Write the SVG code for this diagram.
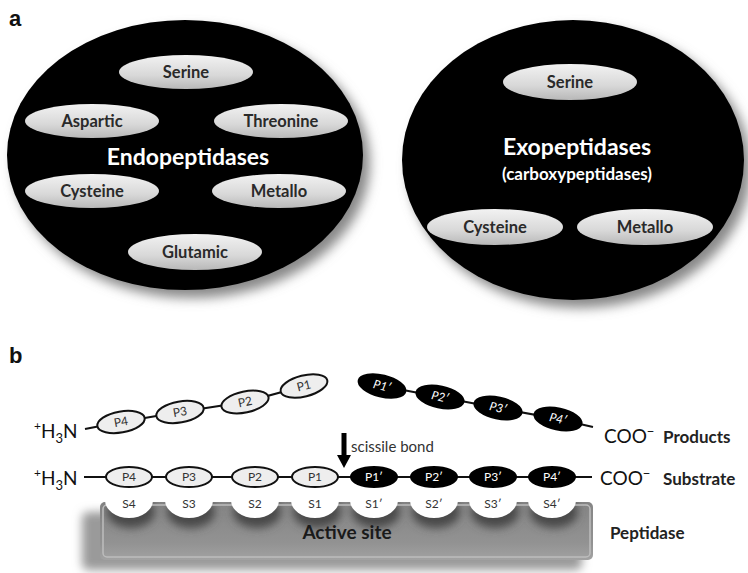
<svg xmlns="http://www.w3.org/2000/svg" width="748" height="573" viewBox="0 0 748 573">
<defs>
<style>
.lb{font-family:Lato,"Open Sans","Liberation Sans",sans-serif;font-weight:bold}
.lr{font-family:Lato,"Open Sans","Liberation Sans",sans-serif}
.pan{font-family:"Liberation Sans",Arial,sans-serif;font-weight:bold;font-size:22px;fill:#111}
.big{fill:#000}
.sub{fill:url(#gl)}
.sublbl{font-size:16.5px;fill:#2a2a2a;text-anchor:middle}
.title{font-size:23px;fill:#fff;text-anchor:middle}
.pl{fill:#eeeeee;stroke:#111;stroke-width:2}
.pd{fill:#000;stroke:#000;stroke-width:2}
.plt{font-size:12px;fill:#333;text-anchor:middle}
.pdt{font-size:12px;fill:#fff;text-anchor:middle;font-style:italic}
.pdt2{font-size:12px;fill:#fff;text-anchor:middle}
.st{font-size:12px;fill:#333;text-anchor:middle}
.bump{fill:#fff}
.chain{fill:none;stroke:#111;stroke-width:2.2}
.term{font-size:19px;fill:#111}
.side{font-size:17px;fill:#222}
</style>
<linearGradient id="gl" x1="0" y1="0" x2="0" y2="1">
<stop offset="0" stop-color="#f2f2f2"/>
<stop offset="0.6" stop-color="#d8d8d8"/>
<stop offset="1" stop-color="#b8b8b8"/>
</linearGradient>
<linearGradient id="box" x1="0" y1="0" x2="0" y2="1">
<stop offset="0" stop-color="#858585"/>
<stop offset="0.7" stop-color="#929292"/>
<stop offset="1" stop-color="#a2a2a2"/>
</linearGradient>
<filter id="sh" x="-20%" y="-20%" width="140%" height="140%"><feGaussianBlur stdDeviation="6"/></filter>
<filter id="sh2" x="-20%" y="-40%" width="140%" height="180%"><feGaussianBlur stdDeviation="5"/></filter>
<filter id="sh3" x="-30%" y="-30%" width="160%" height="160%"><feGaussianBlur stdDeviation="4"/></filter>
<clipPath id="boxclip"><rect x="100" y="502" width="493" height="58" rx="5"/></clipPath>
</defs>
<rect width="748" height="573" fill="#fff"/>

<!-- panel a -->
<text class="pan" x="9" y="26">a</text>

<g id="endopeptidases">
<ellipse cx="192" cy="163" rx="178" ry="135" fill="#888" filter="url(#sh)"/>
<ellipse class="big" cx="185" cy="155" rx="178" ry="135"/>
<text class="lb title" x="188" y="165">Endopeptidases</text>
</g>
<g id="endo-serine"><ellipse class="sub" cx="186" cy="72" rx="67" ry="17"/><text class="lb sublbl" x="186" y="78">Serine</text></g>
<g id="endo-aspartic"><ellipse class="sub" cx="92" cy="121" rx="67" ry="17"/><text class="lb sublbl" x="92" y="127">Aspartic</text></g>
<g id="endo-threonine"><ellipse class="sub" cx="281" cy="121" rx="67" ry="17"/><text class="lb sublbl" x="281" y="127">Threonine</text></g>
<g id="endo-cysteine"><ellipse class="sub" cx="92" cy="191" rx="67" ry="17"/><text class="lb sublbl" x="92" y="197">Cysteine</text></g>
<g id="endo-metallo"><ellipse class="sub" cx="279" cy="191" rx="67" ry="17"/><text class="lb sublbl" x="279" y="197">Metallo</text></g>
<g id="endo-glutamic"><ellipse class="sub" cx="195" cy="252" rx="67" ry="18"/><text class="lb sublbl" x="195" y="258">Glutamic</text></g>

<g id="exopeptidases">
<ellipse cx="580" cy="168" rx="171" ry="140" fill="#888" filter="url(#sh)"/>
<ellipse class="big" cx="573" cy="160" rx="171" ry="140"/>
<text class="lb title" x="577" y="155">Exopeptidases</text>
<text class="lb" x="577" y="180" font-size="17" fill="#fff" text-anchor="middle">(carboxypeptidases)</text>
</g>
<g id="exo-serine"><ellipse class="sub" cx="570" cy="82" rx="67" ry="18"/><text class="lb sublbl" x="570" y="88">Serine</text></g>
<g id="exo-cysteine"><ellipse class="sub" cx="495" cy="227" rx="68" ry="18"/><text class="lb sublbl" x="495" y="233">Cysteine</text></g>
<g id="exo-metallo"><ellipse class="sub" cx="645" cy="227" rx="68" ry="18"/><text class="lb sublbl" x="645" y="233">Metallo</text></g>

<!-- panel b -->
<text class="pan" x="9" y="363">b</text>

<g id="peptidase">
<rect x="82" y="512" width="500" height="58" rx="6" fill="#9a9a9a" filter="url(#sh2)"/>
<rect x="100" y="502" width="493" height="58" rx="5" fill="url(#box)"/>
<g fill="#4a4a4a" filter="url(#sh3)" clip-path="url(#boxclip)">
<ellipse cx="131" cy="512" rx="24" ry="16"/><ellipse cx="191" cy="512" rx="24" ry="16"/>
<ellipse cx="257" cy="512" rx="24" ry="16"/><ellipse cx="317" cy="512" rx="24" ry="16"/>
<ellipse cx="376" cy="512" rx="24" ry="16"/><ellipse cx="436" cy="512" rx="24" ry="16"/>
<ellipse cx="495" cy="512" rx="24" ry="16"/><ellipse cx="554" cy="512" rx="24" ry="16"/>
</g>
<rect x="103" y="505" width="487" height="52" rx="4" fill="none" stroke="#bdbdbd" stroke-width="1.5"/>
<g class="bump">
<ellipse cx="129" cy="500" rx="24" ry="18"/><ellipse cx="189" cy="500" rx="24" ry="18"/>
<ellipse cx="255" cy="500" rx="24" ry="18"/><ellipse cx="315" cy="500" rx="24" ry="18"/>
<ellipse cx="374" cy="500" rx="24" ry="18"/><ellipse cx="434" cy="500" rx="24" ry="18"/>
<ellipse cx="493" cy="500" rx="24" ry="18"/><ellipse cx="552" cy="500" rx="24" ry="18"/>
</g>
<g class="lr st">
<text x="129" y="508">S4</text><text x="189" y="508">S3</text><text x="255" y="508">S2</text><text x="315" y="508">S1</text>
<text x="374" y="508">S1′</text><text x="434" y="508">S2′</text><text x="493" y="508">S3′</text><text x="552" y="508">S4′</text>
</g>
<text class="lb" x="347" y="539" font-size="19" fill="#1a1a1a" text-anchor="middle">Active site</text>
<text class="lb side" x="610" y="539">Peptidase</text>
</g>

<g id="connectors">
<polyline class="chain" points="85,429 121,422 180,412 245,402 304,386 318,383"/>
<polyline class="chain" points="370,383 382,386 440,397 498,408 558,419 593,427"/>
<line class="chain" x1="84" y1="477" x2="592" y2="477"/>
<rect x="341.5" y="433" width="5" height="23" fill="#000"/>
<polygon points="337,455 351,455 344,468" fill="#000"/>
</g>

<g id="products-n">
<text class="lr term" x="34" y="438"><tspan font-size="12" dy="-8">+</tspan><tspan dy="8">H</tspan><tspan font-size="13" dy="5">3</tspan><tspan dy="-5">N</tspan></text>
<g id="prod-p4"><ellipse class="pl" cx="121" cy="422" rx="24" ry="10.5" transform="rotate(-10 121 422)"/><text class="lr plt" x="121" y="426" transform="rotate(-10 121 422)">P4</text></g>
<g id="prod-p3"><ellipse class="pl" cx="180" cy="412" rx="24" ry="10.5" transform="rotate(-10 180 412)"/><text class="lr plt" x="180" y="416" transform="rotate(-10 180 412)">P3</text></g>
<g id="prod-p2"><ellipse class="pl" cx="245" cy="402" rx="24" ry="10.5" transform="rotate(-12 245 402)"/><text class="lr plt" x="245" y="406" transform="rotate(-12 245 402)">P2</text></g>
<g id="prod-p1"><ellipse class="pl" cx="304" cy="386" rx="24" ry="10.5" transform="rotate(-14 304 386)"/><text class="lr plt" x="304" y="390" transform="rotate(-14 304 386)">P1</text></g>
</g>
<g id="products-c">
<g id="prod-p1p"><ellipse class="pd" cx="382" cy="386" rx="24" ry="10.5" transform="rotate(14 382 386)"/><text class="lr pdt" x="382" y="390" transform="rotate(14 382 386)">P1′</text></g>
<g id="prod-p2p"><ellipse class="pd" cx="440" cy="397" rx="24" ry="10.5" transform="rotate(12 440 397)"/><text class="lr pdt" x="440" y="401" transform="rotate(12 440 397)">P2′</text></g>
<g id="prod-p3p"><ellipse class="pd" cx="498" cy="408" rx="24" ry="10.5" transform="rotate(12 498 408)"/><text class="lr pdt" x="498" y="412" transform="rotate(12 498 408)">P3′</text></g>
<g id="prod-p4p"><ellipse class="pd" cx="558" cy="419" rx="24" ry="10.5" transform="rotate(12 558 419)"/><text class="lr pdt" x="558" y="423" transform="rotate(12 558 419)">P4′</text></g>
<text class="lr term" x="604" y="443">COO<tspan font-size="13" dy="-7">−</tspan></text>
<text class="lb side" x="663" y="443">Products</text>
</g>

<text class="lr" x="351" y="452" font-size="15" fill="#333">scissile bond</text>

<g id="substrate">
<text class="lr term" x="34" y="485"><tspan font-size="12" dy="-8">+</tspan><tspan dy="8">H</tspan><tspan font-size="13" dy="5">3</tspan><tspan dy="-5">N</tspan></text>
<g id="sub-p4"><ellipse class="pl" cx="129" cy="477" rx="23" ry="10"/><text class="lr plt" x="129" y="481">P4</text></g>
<g id="sub-p3"><ellipse class="pl" cx="189" cy="477" rx="23" ry="10"/><text class="lr plt" x="189" y="481">P3</text></g>
<g id="sub-p2"><ellipse class="pl" cx="255" cy="477" rx="23" ry="10"/><text class="lr plt" x="255" y="481">P2</text></g>
<g id="sub-p1"><ellipse class="pl" cx="315" cy="477" rx="23" ry="10"/><text class="lr plt" x="315" y="481">P1</text></g>
<g id="sub-p1p"><ellipse class="pd" cx="374" cy="477" rx="23" ry="10"/><text class="lr pdt2" x="374" y="481">P1′</text></g>
<g id="sub-p2p"><ellipse class="pd" cx="434" cy="477" rx="23" ry="10"/><text class="lr pdt2" x="434" y="481">P2′</text></g>
<g id="sub-p3p"><ellipse class="pd" cx="493" cy="477" rx="23" ry="10"/><text class="lr pdt2" x="493" y="481">P3′</text></g>
<g id="sub-p4p"><ellipse class="pd" cx="552" cy="477" rx="23" ry="10"/><text class="lr pdt2" x="552" y="481">P4′</text></g>
<text class="lr term" x="600" y="485">COO<tspan font-size="13" dy="-7">−</tspan></text>
<text class="lb side" x="663" y="485">Substrate</text>
</g>
</svg>
